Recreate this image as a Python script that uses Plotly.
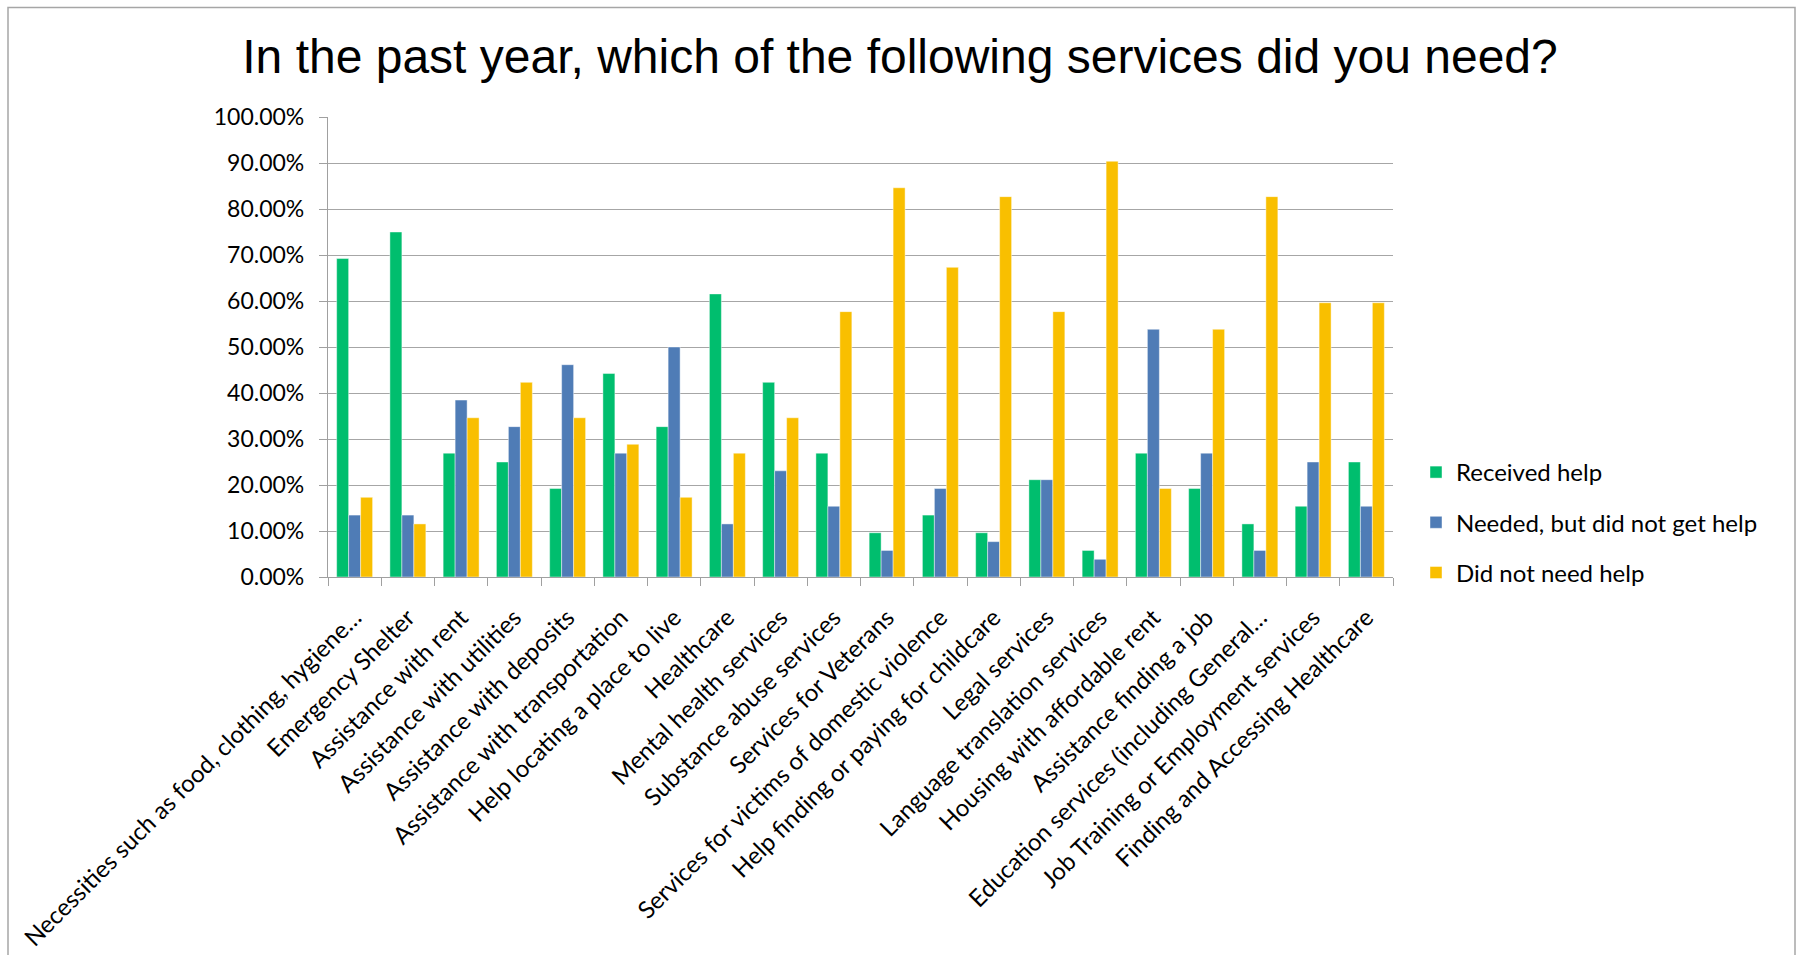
import plotly.graph_objects as go

# Survey responses (share of respondents, %)
services = [
    "Necessities such as food, clothing, hygiene…",
    "Emergency Shelter",
    "Assistance with rent",
    "Assistance with utilities",
    "Assistance with deposits",
    "Assistance with transportation",
    "Help locating a place to live",
    "Healthcare",
    "Mental health services",
    "Substance abuse services",
    "Services for Veterans",
    "Services for victims of domestic violence",
    "Help finding or paying for childcare",
    "Legal services",
    "Language translation services",
    "Housing with affordable rent",
    "Assistance finding a job",
    "Education services (including General…",
    "Job Training or Employment services",
    "Finding and Accessing Healthcare",
]

received_help = [69.23, 75.00, 26.92, 25.00, 19.23, 44.23, 32.69, 61.54, 42.31, 26.92,
                 9.62, 13.46, 9.62, 21.15, 5.77, 26.92, 19.23, 11.54, 15.38, 25.00]
needed_no_help = [13.46, 13.46, 38.46, 32.69, 46.15, 26.92, 50.00, 11.54, 23.08, 15.38,
                  5.77, 19.23, 7.69, 21.15, 3.85, 53.85, 26.92, 5.77, 25.00, 15.38]
did_not_need = [17.31, 11.54, 34.62, 42.31, 34.62, 28.85, 17.31, 26.92, 34.62, 57.69,
                84.62, 67.31, 82.69, 57.69, 90.38, 19.23, 53.85, 82.69, 59.62, 59.62]

series_names = ["Received help", "Needed, but did not get help", "Did not need help"]
series_values = [received_help, needed_no_help, did_not_need]
series_colors = ["#00BE6E", "#4F7CB6", "#F9BF00"]

W, H = 1800, 955
L, R, T, B = 328, 407, 117, 378
plot_w = W - L - R
plot_h = H - T - B

fig = go.Figure()
for name, vals, col in zip(series_names, series_values, series_colors):
    fig.add_trace(go.Bar(
        x=services, y=vals, name=name, legendgroup=name,
        marker=dict(color=col, line=dict(color="rgba(255,255,255,0.55)", width=0.8)),
    ))

font_family = "Lato, Carlito, Calibri, sans-serif"
xlabel_font = dict(family=font_family, size=24, color="#000000")
ylabel_font = dict(family=font_family, size=23, color="#000000")
legend_font = dict(family=font_family, size=24, color="#000000")

# Outer chart frame (px -> paper coordinates)
fx0, fx1 = (8 - L) / plot_w, (1795 - L) / plot_w
fy0, fy1 = (H - B - 1040) / plot_h, (H - B - 7.5) / plot_h
fig.add_shape(type="rect", xref="paper", yref="paper", x0=fx0, x1=fx1, y0=fy0, y1=fy1,
              line=dict(color="#A6A6A6", width=1.5), fillcolor="rgba(0,0,0,0)", layer="below")

fig.update_layout(
    width=W, height=H,
    margin=dict(l=L, r=R, t=T, b=B, autoexpand=False),
    paper_bgcolor="white", plot_bgcolor="white",
    barmode="group", bargap=0.325, bargroupgap=0,
    title=dict(
        text="In the past year, which of the following services did you need?",
        font=dict(family="Liberation Sans, Arial, sans-serif", size=48, color="#000000"),
        x=0.5, xref="container", xanchor="center",
        y=1 - 56 / H, yref="container", yanchor="middle",
    ),
    legend=dict(
        x=(1416 - L) / plot_w, xanchor="left",
        y=(H - B - 450) / plot_h, yanchor="top",
        font=legend_font, tracegroupgap=16,
        bgcolor="rgba(0,0,0,0)",
    ),
    xaxis=dict(
        type="category", tickangle=-45, tickson="boundaries",
        ticks="outside", ticklen=8, tickcolor="#A0A0A0", tickwidth=1.2,
        showline=True, linecolor="#A0A0A0", linewidth=1.2,
        showgrid=False, tickfont=xlabel_font, ticklabelstandoff=16, automargin=False,
    ),
    yaxis=dict(
        range=[0, 100], dtick=10, tickformat=".2f", ticksuffix="%",
        ticks="outside", ticklen=8, tickcolor="#A0A0A0", tickwidth=1.2,
        showline=True, linecolor="#A0A0A0", linewidth=1.2,
        showgrid=True, gridcolor="#A6A6A6", gridwidth=1.2,
        tickfont=ylabel_font, ticklabelstandoff=10, zeroline=False, automargin=False,
    ),
)

fig.write_html("out.html")
